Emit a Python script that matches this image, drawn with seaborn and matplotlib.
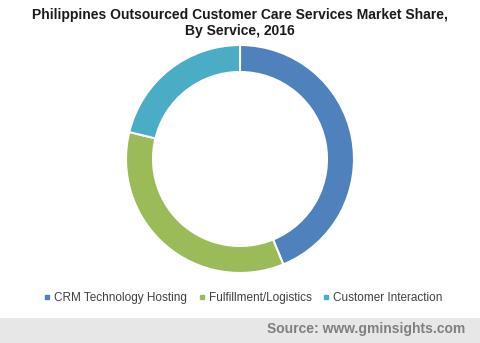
import matplotlib
matplotlib.use("Agg")
import matplotlib.pyplot as plt
import seaborn as sns
from matplotlib.lines import Line2D
from matplotlib.patches import Rectangle

services = ["CRM Technology Hosting", "Fulfillment/Logistics", "Customer Interaction"]
shares = [43.8, 35.0, 21.2]
colors = ["#4F81BD", "#9BBB59", "#4BACC6"]
title = "Philippines Outsourced Customer Care Services Market Share,\nBy Service, 2016"
source = "Source: www.gminsights.com"

sns.set_theme(style="white")
plt.rcParams['font.family'] = ['Liberation Sans', 'DejaVu Sans']

W, H = 480, 343
fig = plt.figure(figsize=(W / 100, H / 100), dpi=100)
ax = fig.add_axes([0, 0, 1, 1])
ax.set_xlim(0, W)
ax.set_ylim(0, H)
ax.axis("off")

# footer band
ax.add_patch(Rectangle((0, 0), W, H - 318, facecolor="#e7e7e7", edgecolor="none", zorder=0))

wedges, _ = ax.pie(shares, colors=sns.color_palette(colors), startangle=90, counterclock=False,
                   center=(240, H - 159), radius=114, frame=True,
                   wedgeprops=dict(width=27, edgecolor="white", linewidth=1.5))
ax.set_xlim(0, W)
ax.set_ylim(0, H)
ax.set_aspect("equal")
ax.axis("off")

fig.text(0.5, 1 - 23 / H, title, ha="center", va="center", fontsize=10, fontweight="bold",
         color="#1a1a1a", linespacing=1.25)

handles = [Line2D([], [], marker="s", linestyle="none", markersize=3.5, color=c) for c in colors]
leg = fig.legend(handles, services, loc="center", bbox_to_anchor=(243 / W, 1 - 298 / H), ncol=3,
                 frameon=False, fontsize=8.5, handlelength=0.6, handletextpad=0.3,
                 columnspacing=0.9, labelcolor="#404040")

fig.text(465 / W, 1 - 329 / H, source, ha="right", va="center", fontsize=10, fontweight="bold",
         color="#7f7f7f")

fig.savefig("out.png", dpi=100)
